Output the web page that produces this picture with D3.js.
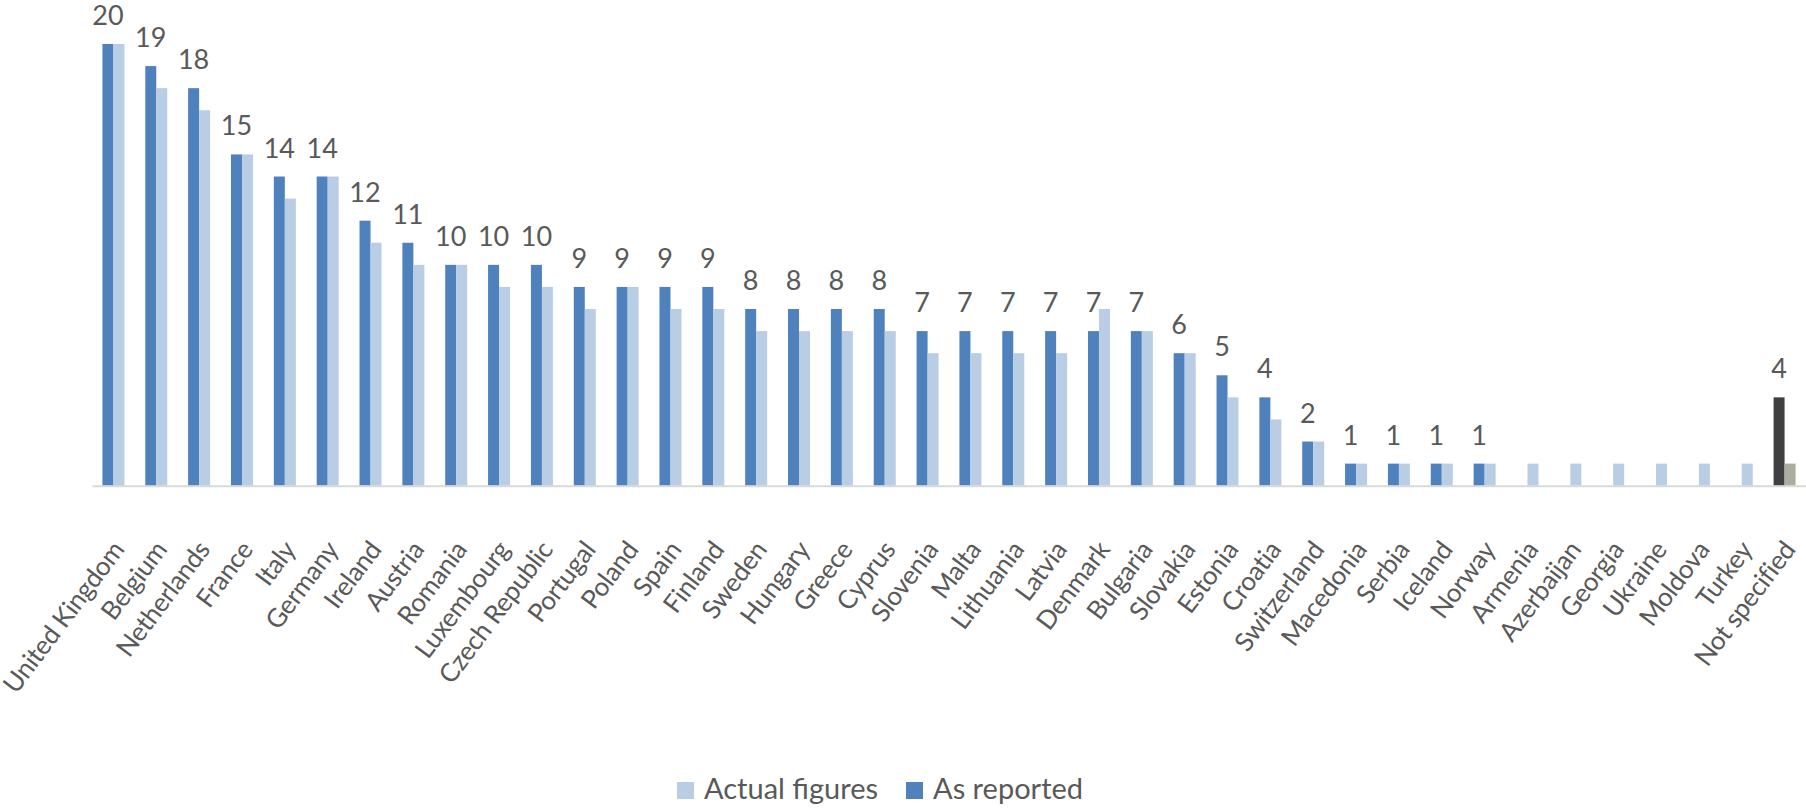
<!DOCTYPE html>
<html>
<head>
<meta charset="utf-8">
<script src="https://cdn.jsdelivr.net/npm/d3@7"></script>
<style>
  html, body { margin: 0; padding: 0; background: #ffffff; }
  svg { display: block; }
  text { font-family: Lato, "Open Sans", sans-serif; fill: #595959; }
</style>
</head>
<body>
<svg id="chart" width="1806" height="808"></svg>
<script>
const categories = ["United Kingdom","Belgium","Netherlands","France","Italy","Germany","Ireland","Austria","Romania","Luxembourg","Czech Republic","Portugal","Poland","Spain","Finland","Sweden","Hungary","Greece","Cyprus","Slovenia","Malta","Lithuania","Latvia","Denmark","Bulgaria","Slovakia","Estonia","Croatia","Switzerland","Macedonia","Serbia","Iceland","Norway","Armenia","Azerbaijan","Georgia","Ukraine","Moldova","Turkey","Not specified"];
const asReported    = [20,19,18,15,14,14,12,11,10,10,10,9,9,9,9,8,8,8,8,7,7,7,7,7,7,6,5,4,2,1,1,1,1,0,0,0,0,0,0,4];
const actualFigures = [20,18,17,15,13,14,11,10,10,9,9,8,9,8,8,7,7,7,7,6,6,6,6,8,7,6,4,3,2,1,1,1,1,1,1,1,1,1,1,1];
const seriesNames = ["As reported","Actual figures"];
const legendOrder = ["Actual figures","As reported"];
const colors = {"As reported":"#4f81bd","Actual figures":"#b9cde5"};
const specialColors = {"Not specified": {"As reported":"#404040","Actual figures":"#adad9f"}};

const svg = d3.select("#chart");
const left = 92, right = 1806, y0 = 485.7, yTop = 44;

const x = d3.scaleBand().domain(categories).range([left, right]).padding(0);
const barW = 11;
const x1 = d3.scaleBand().domain(seriesNames).range([x.bandwidth()/2 - barW, x.bandwidth()/2 + barW]).padding(0);
const y = d3.scaleLinear().domain([0, 20]).range([y0, yTop]);

const data = categories.map((c, i) => ({cat: c, "As reported": asReported[i], "Actual figures": actualFigures[i]}));

const g = svg.append("g");
const groups = g.selectAll("g.cat").data(data).join("g")
  .attr("class","cat")
  .attr("transform", d => `translate(${x(d.cat)},0)`);

groups.selectAll("rect").data(d => seriesNames.map(s => ({cat: d.cat, s, v: d[s]}))).join("rect")
  .attr("x", d => x1(d.s))
  .attr("width", x1.bandwidth())
  .attr("y", d => y(d.v))
  .attr("height", d => y0 - y(d.v))
  .attr("fill", d => (specialColors[d.cat] ? specialColors[d.cat][d.s] : colors[d.s]));

// value labels (As reported)
groups.filter(d => d["As reported"] > 0).append("text")
  .attr("x", x1("As reported") + x1.bandwidth()/2)
  .attr("y", d => y(d["As reported"]) - 19)
  .attr("text-anchor","middle")
  .attr("font-size", 27)
  .text(d => d["As reported"]);

// axis line
const xAxis = d3.axisBottom(x).tickSize(0).tickFormat("");
const ax = svg.append("g").attr("transform", `translate(0,${y0})`).call(xAxis);
ax.select(".domain").attr("stroke","#d9d9d9").attr("stroke-width",2);

// category labels
svg.append("g").selectAll("text").data(categories).join("text")
  .attr("transform", d => `translate(${x(d) + x.bandwidth()/2 + 12},550) rotate(-53)`)
  .attr("text-anchor","end")
  .attr("font-size", 26)
  .attr("letter-spacing", -0.3)
  .text(d => d);

// legend
const legend = svg.append("g");
const legendX = [677, 906];
legendOrder.forEach((s, i) => {
  legend.append("rect").attr("x", legendX[i]).attr("y", 782).attr("width", 17).attr("height", 17).attr("fill", colors[s]);
  legend.append("text").attr("x", legendX[i] + 27).attr("y", 799).attr("font-size", 29).text(s);
});
</script>
</body>
</html>
